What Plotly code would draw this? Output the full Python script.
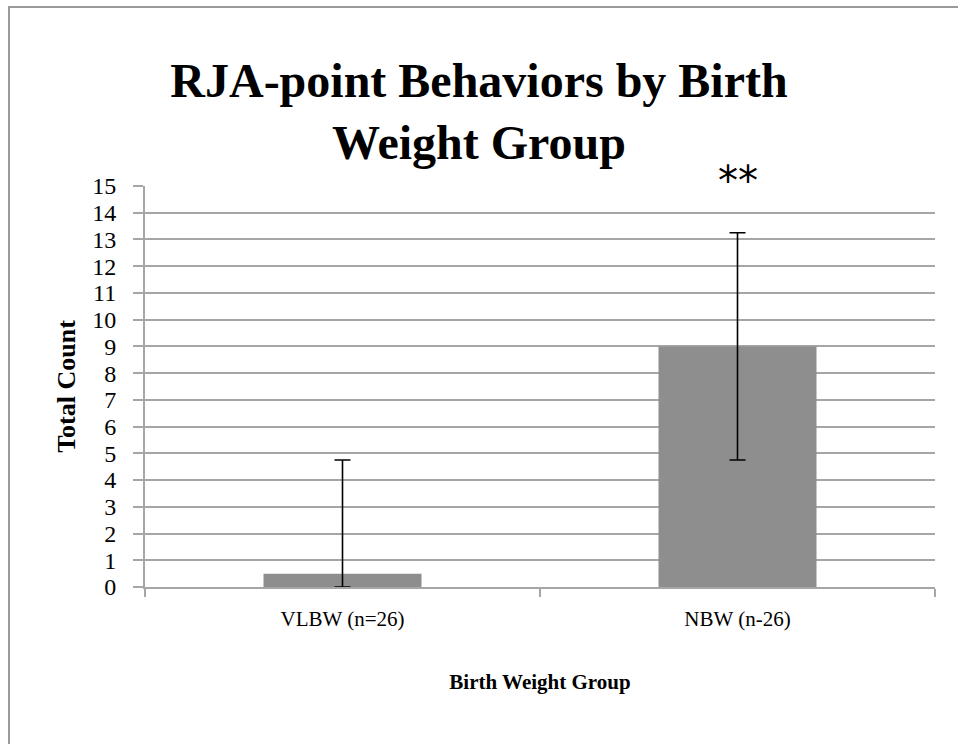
import plotly.graph_objs as go

# Données
groups = ["VLBW (n=26)", "NBW (n-26)"]
total_counts = [0.5, 9]
errors = [4.25, 4.25]
significance = ["", "**"]

# on coupe l'erreur basse à zéro comme dans l'original
errors_minus = [min(e, v) for e, v in zip(errors, total_counts)]

serif = "Liberation Serif"
grid_gray = "#a6a6a6"

bar_chart = go.Bar(
    x=groups,
    y=total_counts,
    width=0.4,
    marker=dict(color="#8e8e8e", line=dict(width=0)),
    error_y=dict(
        type="data",
        symmetric=False,
        array=errors,
        arrayminus=errors_minus,
        color="black",
        thickness=1.6,
        width=8,
    ),
)

layout = go.Layout(
    width=958,
    height=744,
    paper_bgcolor="white",
    plot_bgcolor="white",
    showlegend=False,
    margin=dict(l=145, r=23, t=186, b=157),
    title=dict(
        text="<b>RJA-point Behaviors by Birth<br>Weight Group</b>",
        x=0.5,
        xref="container",
        y=1 - 97 / 744,
        yref="container",
        yanchor="top",
        font=dict(family=serif, size=48, color="black"),
    ),
    xaxis=dict(
        title=dict(text="<b>Birth Weight Group</b>", font=dict(family=serif, size=21, color="black"), standoff=44),
        tickfont=dict(family=serif, size=21, color="black"),
        ticklabelstandoff=12,
        showline=True,
        linecolor=grid_gray,
        linewidth=2,
        ticks="outside",
        tickson="boundaries",
        ticklen=8,
        tickcolor=grid_gray,
        tickwidth=2,
        showgrid=False,
    ),
    yaxis=dict(
        title=dict(text="<b>Total Count</b>", font=dict(family=serif, size=26, color="black"), standoff=9),
        tickfont=dict(family=serif, size=24, color="black"),
        ticklabelstandoff=12,
        range=[0, 15],
        dtick=1,
        showline=True,
        linecolor=grid_gray,
        linewidth=2,
        ticks="outside",
        ticklen=10,
        tickcolor=grid_gray,
        tickwidth=2,
        gridcolor=grid_gray,
        gridwidth=2,
        zeroline=False,
    ),
    shapes=[
        dict(type="rect", xref="paper", yref="paper",
             x0=(9 - 145) / 790, x1=(962 - 145) / 790,
             y0=(587 - 750) / 401, y1=1 + (186 - 7) / 401,
             line=dict(color="#9a9a9a", width=2), layer="below"),
    ],
)

fig = go.Figure(data=[bar_chart], layout=layout)

for g, s in zip(groups, significance):
    if s:
        fig.add_annotation(x=g, y=15, yref="y", text=s, showarrow=False,
                           yanchor="bottom", yshift=-20,
                           font=dict(family="DejaVu Sans", size=40, color="black"))

fig.write_html("out.html", config={"displayModeBar": False},
               post_script="document.body.style.margin='0';")
